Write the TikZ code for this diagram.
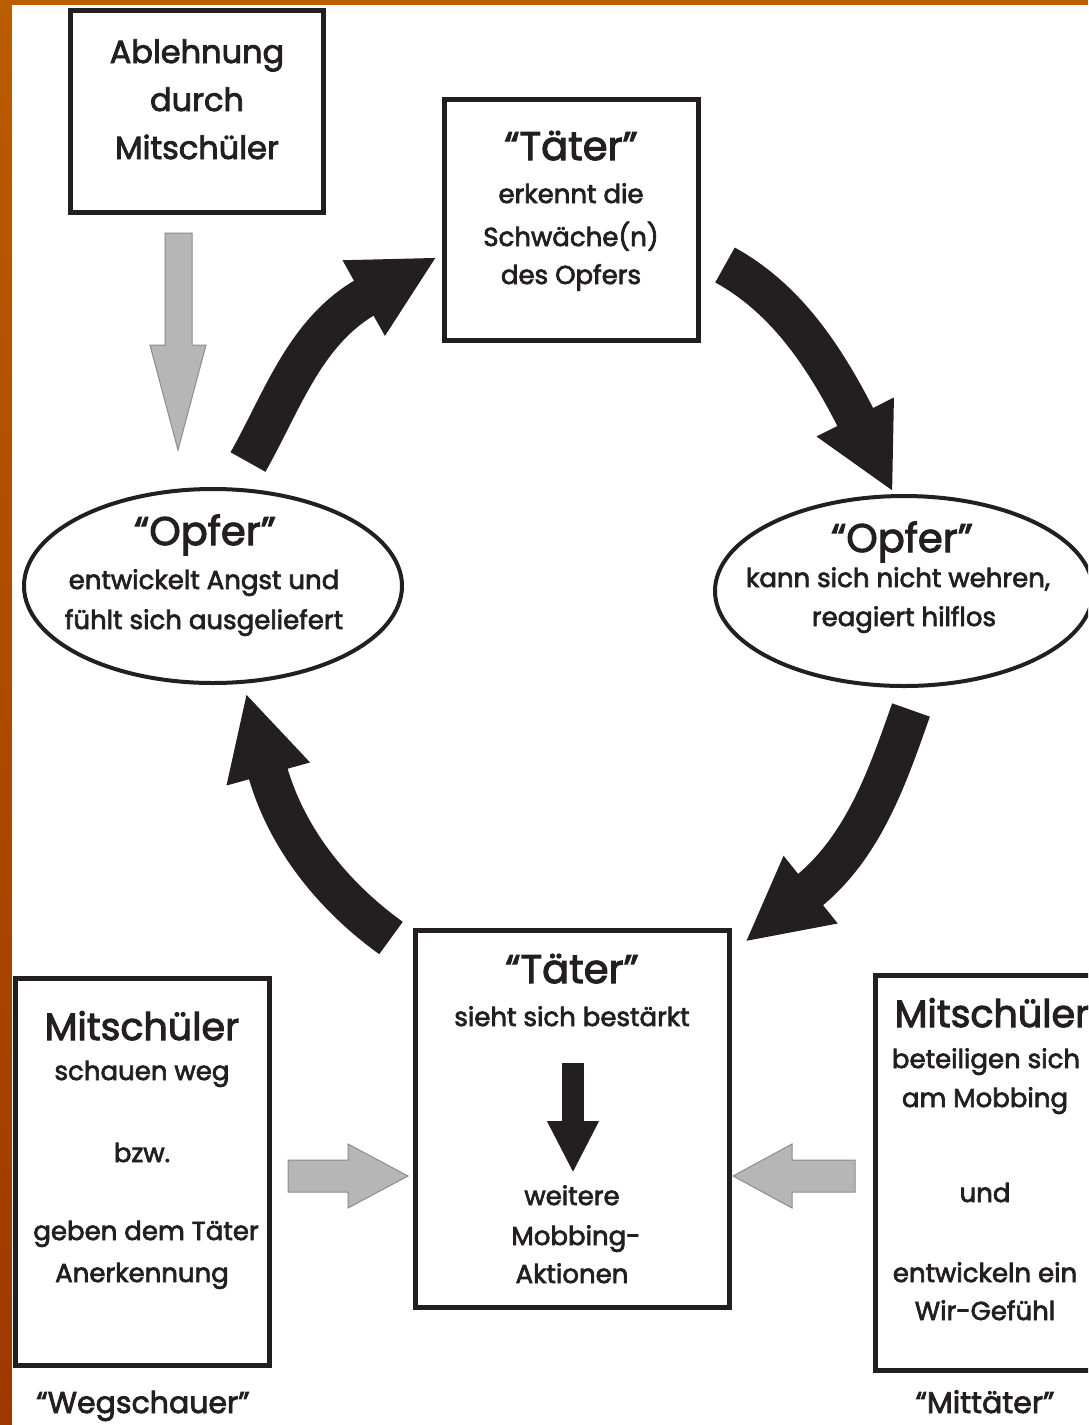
\documentclass[tikz,border=0pt]{standalone}
\usepackage{fontspec}
\setmainfont{Poppins}[FakeBold=2.6]
\usetikzlibrary{arrows.meta,shapes.geometric}
\definecolor{bgor}{RGB}{186,92,0}
\definecolor{bgdark}{RGB}{158,56,0}
\definecolor{ink}{RGB}{35,31,32}
\definecolor{greyfill}{RGB}{182,182,182}
\definecolor{greyline}{RGB}{140,140,140}
\tikzset{
  box/.style={draw=ink, line width=5pt, fill=white, inner sep=0pt},
  oval/.style={ellipse, draw=ink, line width=4pt, fill=white, inner sep=0pt},
  txt/.style={anchor=base, inner sep=0pt, text=ink, font=\fontsize{26}{26}\selectfont},
  big/.style={txt, font=\fontsize{32}{32}\selectfont},
  head/.style={txt, font=\fontsize{40}{40}\selectfont},
  mit/.style={txt, font=\fontsize{38}{38}\selectfont},
  lbl/.style={txt, font=\fontsize{30}{30}\selectfont},
  cyclearrow/.style={draw=ink, line width=40pt, -{Triangle[length=84pt,width=80pt]}},
  greyarrow/.style={draw=greyline, line width=1pt, fill=greyfill}
}
\begin{document}
\begin{tikzpicture}[x=1pt,y=-1pt]
\useasboundingbox (0,0) rectangle (1088,1425);
\begin{scope}
\clip (0,0) rectangle (1088,1425);
\fill[bgor] (0,0) rectangle (1088,1425);
\shade[top color=bgor, bottom color=bgdark] (0,0) rectangle (12,1425);
\fill[white] (12,5) rectangle (1088,1425);

% boxes and ovals
\node[box, minimum width=253pt, minimum height=202pt] (rej) at (197,111.5) {};
\node[box, minimum width=254pt, minimum height=241pt] (tat1) at (571.5,220) {};
\node[oval, minimum width=378pt, minimum height=194pt] (opf1) at (213,586) {};
\node[oval, minimum width=378pt, minimum height=190pt] (opf2) at (904,591) {};
\node[box, minimum width=314pt, minimum height=377pt] (tat2) at (572.5,1119) {};
\node[box, minimum width=254pt, minimum height=387pt] (weg) at (142.5,1172) {};
\node[box, minimum width=250pt, minimum height=395pt] (mit) at (1000.5,1173) {};

% texts
\node[big] (r1) at (197,63) {Ablehnung};
\node[big] (r2) at (197,111) {durch};
\node[big] (r3) at (197,159) {Mitschüler};

\node[head] (a1) at (571,160) {“Täter”};
\node[txt] (a2) at (571,203) {erkennt die};
\node[txt] (a3) at (571,246) {Schwäche(n)};
\node[txt] (a4) at (571,284) {des Opfers};

\node[head] (o1) at (205,545) {“Opfer”};
\node[txt] (o2) at (204,589) {entwickelt Angst und};
\node[txt] (o3) at (204,629) {fühlt sich ausgeliefert};

\node[head] (p1) at (902,552) {“Opfer”};
\node[txt] (p2) at (898,587) {kann sich nicht wehren,};
\node[txt] (p3) at (904,626) {reagiert hilflos};

\node[head] (b1) at (572,983) {“Täter”};
\node[txt] (b2) at (572,1026) {sieht sich bestärkt};
\node[txt] (b3) at (572,1205) {weitere};
\node[txt] (b4) at (576,1245) {Mobbing-};
\node[txt] (b5) at (572,1283) {Aktionen};

\node[mit] (w1) at (142,1040) {Mitschüler};
\node[txt] (w2) at (142,1080) {schauen weg};
\node[txt] (w3) at (142,1162) {bzw.};
\node[txt] (w4) at (146,1240) {geben dem Täter};
\node[txt] (w5) at (142,1282) {Anerkennung};
\node[lbl] (w6) at (143,1413) {“Wegschauer”};

\node[mit] (m1) at (992,1027) {Mitschüler};
\node[txt] (m2) at (986,1068) {beteiligen sich};
\node[txt] (m3) at (985,1107) {am Mobbing};
\node[txt] (m4) at (985,1202) {und};
\node[txt] (m5) at (985,1282) {entwickeln ein};
\node[txt] (m6) at (985,1320) {Wir-Gefühl};
\node[lbl] (m7) at (985,1413) {“Mittäter”};

% cycle arrows
\coordinate (ta) at (248,462); \coordinate (ha) at (437,257);
\coordinate (tb) at (725,265); \coordinate (hb) at (893,492);
\coordinate (tc) at (911,710); \coordinate (hc) at (745,942);
\coordinate (td) at (391,938); \coordinate (hd) at (246,693);
\draw[cyclearrow] (ta) .. controls (283,400) and (305,331) .. (ha);
\draw[cyclearrow] (tb) .. controls (785,298) and (824,355) .. (hb);
\draw[cyclearrow] (tc) .. controls (888,775) and (864,847) .. (hc);
\draw[cyclearrow] (td) .. controls (337,899) and (287,842) .. (hd);

% arrow inside bottom box
\coordinate (it) at (573,1063); \coordinate (ih) at (573,1173);
\draw[draw=ink, line width=22pt, -{Triangle[length=52pt,width=48pt]}] (it) -- (ih);

% grey arrows
\draw[greyarrow] (165,233) -- (192,233) -- (192,345) -- (206,345) -- (178,450) -- (150,345) -- (165,345) -- cycle;
\draw[greyarrow] (288,1160) -- (348,1160) -- (348,1144) -- (408,1176) -- (348,1208) -- (348,1192) -- (288,1192) -- cycle;
\draw[greyarrow] (855,1160) -- (792,1160) -- (792,1144) -- (733,1176) -- (792,1208) -- (792,1192) -- (855,1192) -- cycle;
\end{scope}
\end{tikzpicture}
\end{document}
